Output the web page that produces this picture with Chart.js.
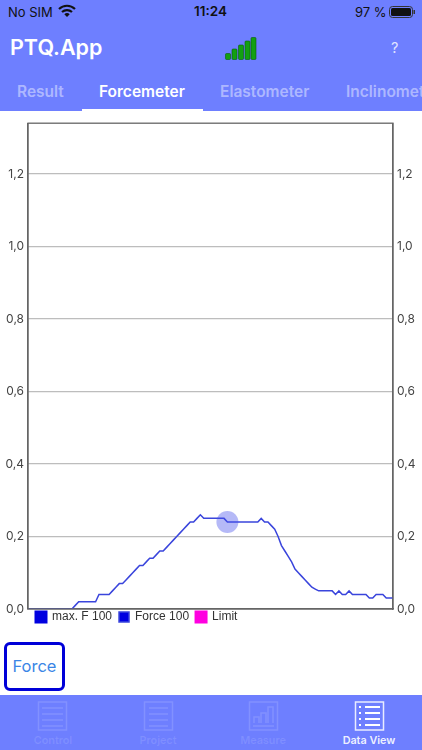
<!DOCTYPE html>
<html>

<head>
    <title>PTQ.App</title>
    <script src="https://cdnjs.cloudflare.com/ajax/libs/Chart.js/4.4.1/chart.umd.min.js"></script>
    <style>
        html, body { margin: 0; padding: 0; background: #fff; }
        #app { position: relative; width: 422px; height: 750px; overflow: hidden; font-family: Inter, "Liberation Sans", sans-serif; }
        #head { position: absolute; left: 0; top: 0; width: 422px; height: 111px; background: #6e7fff; }
        #foot { position: absolute; left: 0; top: 695px; width: 422px; height: 55px; background: #6e7fff; }
        .t { position: absolute; white-space: nowrap; line-height: 1; }
        .tab { top: 84px; font-size: 15.5px; font-weight: 600; color: rgba(255,255,255,.45); }
        .nav { top: 736px; font-size: 10.8px; font-weight: 600; color: rgba(255,255,255,.12); transform: translateX(-50%); }
        #underline { position: absolute; left: 82px; top: 109px; width: 121px; height: 2px; background: #fff; }
        #chart-box { position: absolute; left: 0; top: 112px; width: 422px; height: 526px; }
        #force { position: absolute; left: 4px; top: 642px; width: 55px; height: 43px; border: 3px solid #0000d8; border-radius: 6px; color: #3a86e6; font-size: 16.5px; text-align: center; line-height: 43px; }
        svg { position: absolute; }
    </style>
</head>

<body>
    <div id="app">
        <div id="head"></div>
        <div class="t" style="left:8px;top:6px;font-size:13px;color:#111">No SIM</div>
        <svg style="left:58px;top:3px" width="18" height="15" viewBox="0 0 18 15">
            <path d="M1 6 A11.5 11.5 0 0 1 17 6 M4 9 A7.5 7.5 0 0 1 14 9" fill="none" stroke="#111" stroke-width="2.2"/>
            <path d="M6.3 11.2 A4 4 0 0 1 11.7 11.2 L9 14 Z" fill="#111"/>
        </svg>
        <div class="t" style="left:194px;top:5px;font-size:13.5px;font-weight:600;color:#111">11:24</div>
        <div class="t" style="left:355px;top:6px;font-size:13px;color:#111">97 %</div>
        <svg style="left:389px;top:6px" width="28" height="13" viewBox="0 0 28 13">
            <rect x="0.5" y="0.5" width="23" height="11" rx="3" fill="none" stroke="#333"/>
            <rect x="2" y="2" width="20" height="8" rx="1.5" fill="#111"/>
            <rect x="24.5" y="4" width="1.5" height="4" fill="#333"/>
        </svg>
        <div class="t" style="left:10px;top:37px;font-size:21.5px;font-weight:600;color:#fff">PTQ.App</div>
        <svg style="left:224px;top:36px" width="34" height="26" viewBox="0 0 34 26">
            <g fill="#12a012" stroke="#0a5a0a" stroke-width="0.6">
                <rect x="1.5" y="17.5" width="5" height="6" rx="1"/>
                <rect x="8" y="13" width="5" height="10.5" rx="1"/>
                <rect x="14.5" y="9" width="5" height="14.5" rx="1"/>
                <rect x="21" y="5" width="5" height="18.5" rx="1"/>
                <rect x="27" y="1.5" width="5" height="22" rx="1"/>
            </g>
        </svg>
        <div class="t" style="left:391px;top:41px;font-size:14.5px;color:rgba(255,255,255,.8)">?</div>
        <div class="t tab" style="left:17px">Result</div>
        <div class="t tab" style="left:99px;color:#fff">Forcemeter</div>
        <div class="t tab" style="left:220px">Elastometer</div>
        <div class="t tab" style="left:346px">Inclinometer</div>
        <div id="underline"></div>

        <div id="chart-box"><canvas id="force-chart"></canvas></div>

        <div id="force">Force</div>

        <div id="foot"></div>
        <svg style="left:0;top:699px" width="422" height="36" viewBox="0 0 422 36" fill="none">
            <g stroke="rgba(255,255,255,.14)" stroke-width="1.5">
                <rect x="38.5" y="3" width="28" height="28"/>
                <path d="M42 9H63M42 15H63M42 21H63M42 27H63"/>
                <rect x="144.5" y="3" width="28" height="28"/>
                <path d="M149 9H168M149 15H168M149 21H168M149 27H168"/>
                <rect x="249.5" y="3" width="28" height="28"/>
                <path d="M254 24V18H259V24M261 24V14H266V24M268 24V8H273V24M253 27H274"/>
            </g>
            <g stroke="rgba(255,255,255,.85)" stroke-width="1.5">
                <rect x="355.5" y="3" width="28" height="28"/>
            </g>
            <path d="M365 8H380M365 14H380M365 20H380M365 26H380" stroke="#fff" stroke-width="2"/>
            <path d="M359 8H361M359 14H361M359 20H361M359 26H361" stroke="#fff" stroke-width="2"/>
        </svg>
        <div class="t nav" style="left:53px">Control</div>
        <div class="t nav" style="left:158px">Project</div>
        <div class="t nav" style="left:263px">Measure</div>
        <div class="t nav" style="left:369px;color:rgba(255,255,255,.9)">Data View</div>
    </div>

    <script>
        // valores, una muestra por paso
        const forceValues = [
            0, 0, 0, 0, 0, 0, 0, 0, 0, 0, 0, 0, 0, 0,
            0.01, 0.02, 0.02, 0.02, 0.02, 0.02, 0.02,
            0.04, 0.04, 0.04, 0.04, 0.05, 0.06, 0.07, 0.07, 0.08,
            0.09, 0.10, 0.11, 0.12, 0.12, 0.13, 0.14, 0.14, 0.15, 0.16,
            0.16, 0.17, 0.18, 0.19, 0.20, 0.21, 0.22, 0.23, 0.24, 0.24,
            0.25, 0.26, 0.25, 0.25, 0.25, 0.25, 0.25, 0.25, 0.25,
            0.24, 0.24, 0.24, 0.24, 0.24, 0.24, 0.24, 0.24, 0.24, 0.24,
            0.25, 0.24, 0.24, 0.23, 0.22, 0.20, 0.175, 0.16, 0.145, 0.13,
            0.11, 0.10, 0.09, 0.08, 0.07, 0.06, 0.055, 0.05, 0.05, 0.05,
            0.05, 0.05, 0.04, 0.05, 0.04, 0.04, 0.05, 0.04, 0.04, 0.04,
            0.04, 0.04, 0.03, 0.03, 0.04, 0.04, 0.04, 0.03, 0.03, 0.03
        ];
        const sampleLabels = forceValues.map((v, i) => i);
        const maxForceValues = [];
        const limitValues = [];
        const seriesNames = ['max. F 100', 'Force 100', 'Limit'];
        const cursorIndex = 59;
        const yTicks = [0, 0.2, 0.4, 0.6, 0.8, 1.0, 1.2];
        const yMax = 1.34;

        // marco del area de dibujo
        const frame = {
            id: 'frame',
            afterDraw(chart) {
                const a = chart.chartArea;
                const ctx = chart.ctx;
                ctx.save();
                ctx.strokeStyle = '#666';
                ctx.lineWidth = 1.3;
                ctx.strokeRect(a.left, a.top, a.right - a.left, a.bottom - a.top);
                ctx.restore();
            }
        };

        // la leyenda va pegada al eje y un poco a la derecha
        const legendShift = {
            id: 'legendShift',
            afterLayout(chart) {
                chart.legend.top -= 5;
                chart.legend.left += 29;
            }
        };

        const tickStyle = {
            color: '#444',
            font: { family: 'Inter, "Liberation Sans", sans-serif', size: 12 },
            padding: 4,
            callback: v => v.toFixed(1).replace('.', ',')
        };

        new Chart(document.getElementById('force-chart'), {
            type: 'line',
            data: {
                labels: sampleLabels,
                datasets: [{
                    label: seriesNames[0],
                    data: maxForceValues,
                    backgroundColor: '#0000e0',
                    borderColor: '#0000e0'
                }, {
                    label: seriesNames[1],
                    data: forceValues,
                    backgroundColor: '#0000e0',
                    borderColor: '#3a45dc',
                    borderWidth: 1.5,
                    tension: 0,
                    pointRadius: ctx => ctx.dataIndex === cursorIndex ? 11 : 0,
                    pointBackgroundColor: 'rgba(70, 80, 235, 0.4)',
                    pointBorderWidth: 0
                }, {
                    label: seriesNames[2],
                    data: limitValues,
                    backgroundColor: '#ff00e0',
                    borderColor: '#ff00e0'
                }]
            },
            options: {
                responsive: true,
                maintainAspectRatio: false,
                animation: false,
                events: [],
                layout: { padding: { top: 11 } },
                scales: {
                    x: {
                        afterFit: axis => { axis.height = 0; },
                        ticks: { display: false },
                        grid: { display: false },
                        border: { color: '#666', width: 1.3 }
                    },
                    y: {
                        min: 0,
                        max: yMax,
                        afterBuildTicks: axis => { axis.ticks = yTicks.map(value => ({ value })); },
                        afterFit: axis => { axis.width = 28; },
                        ticks: tickStyle,
                        grid: { color: '#bdbdbd', lineWidth: 1.2, tickLength: 0, drawTicks: false },
                        border: { color: '#666', width: 1.3 }
                    },
                    yRight: {
                        position: 'right',
                        min: 0,
                        max: yMax,
                        afterBuildTicks: axis => { axis.ticks = yTicks.map(value => ({ value })); },
                        afterFit: axis => { axis.width = 29; },
                        ticks: tickStyle,
                        grid: { display: false, drawTicks: false },
                        border: { color: '#666', width: 1.3 }
                    }
                },
                plugins: {
                    legend: {
                        position: 'bottom',
                        align: 'start',
                        onClick: null,
                        labels: {
                            boxWidth: 10,
                            boxHeight: 10,
                            padding: 7,
                            color: '#333',
                            font: { family: '"Liberation Sans", sans-serif', size: 12 }
                        }
                    },
                    tooltip: { enabled: false }
                }
            },
            plugins: [frame, legendShift]
        });
    </script>
</body>

</html>
